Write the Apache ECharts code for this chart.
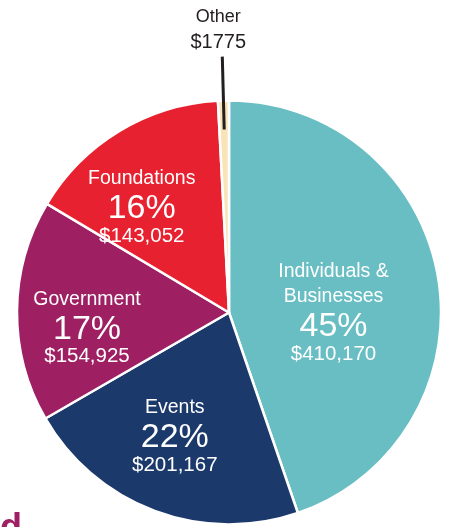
<!DOCTYPE html>
<html>
<head>
<meta charset="utf-8">
<script src="https://cdn.jsdelivr.net/npm/echarts@6/dist/echarts.min.js"></script>
<style>
  html, body { margin: 0; padding: 0; background: #fff; }
  #chart { width: 450px; height: 527px; }
</style>
</head>
<body>
<div id="chart"></div>
<script>
// data
var categories = ['Individuals & Businesses', 'Events', 'Government', 'Foundations', 'Other']
var nameLines = [['Individuals &', 'Businesses'], ['Events'], ['Government'], ['Foundations'], ['Other']]
var amounts = [410170, 201167, 154925, 143052, 1775]

// styling
var colors = ['#68bec3', '#1b3a6b', '#9e1f62', '#e72130', '#f8e4b8']
var labelShift = [[-3, 17], [-16, 21], [-33, 15], [-31, -13]]
var font = 'Liberation Sans'
var ink = '#231f20'

function money (v) {
  var s = String(v)
  if (v >= 10000) s = s.replace(/\B(?=(\d{3})+(?!\d))/g, ',')
  return '$' + s
}

// main pie: slices + the inside labels
var mainData = categories.map(function (name, i) {
  var item = { name: name, value: amounts[i], itemStyle: { color: colors[i] } }
  if (i === 4) item.label = { show: false }
  return item
})

// transparent copy on top: only carries the "Other" callout so its line sits above the slice
var calloutData = categories.map(function (name, i) {
  var item = { name: name, value: amounts[i] }
  if (i === 4) {
    item.label = {
      show: true,
      position: 'outside',
      formatter: '{o|' + nameLines[i][0] + '}\n{m|' + money(amounts[i]) + '}'
    }
    item.labelLine = {
      show: true,
      length: 44,
      length2: 0,
      lineStyle: { color: ink, width: 3 }
    }
  } else {
    item.label = { show: false }
    item.labelLine = { show: false }
  }
  return item
})

var pieBase = {
  type: 'pie',
  center: [229, 312.5],
  radius: 212,
  startAngle: 90,
  clockwise: true,
  minAngle: 3,
  avoidLabelOverlap: false,
  emphasis: { disabled: true }
}

var myChart = echarts.init(document.getElementById('chart'), null, { renderer: 'canvas' })
myChart.setOption({
  animation: false,
  graphic: [
    {
      type: 'text',
      x: 22,
      y: 511,
      style: {
        text: 'ed',
        fill: '#9e1f62',
        font: 'bold 36px "Liberation Sans"',
        align: 'right',
        verticalAlign: 'top'
      }
    }
  ],
  series: [
    Object.assign({}, pieBase, {
      z: 2,
      itemStyle: { borderColor: '#fff', borderWidth: 2.5 },
      label: {
        show: true,
        position: 'inside',
        color: '#fff',
        fontFamily: font,
        formatter: function (p) {
          var lines = nameLines[p.dataIndex].map(function (l) { return '{n|' + l + '}' })
          return lines.join('\n') + '\n{p|' + Math.round(p.percent) + '%}\n{a|' + money(p.value) + '}'
        },
        rich: {
          n: { fontFamily: font, fontSize: 19.5, lineHeight: 25, color: '#fff' },
          p: { fontFamily: font, fontSize: 34, lineHeight: 35, color: '#fff' },
          a: { fontFamily: font, fontSize: 20.5, lineHeight: 20, color: '#fff' }
        }
      },
      labelLine: { show: false },
      labelLayout: function (p) {
        var s = labelShift[p.dataIndex] || [0, 0]
        return { dx: s[0], dy: s[1] }
      },
      data: mainData
    }),
    Object.assign({}, pieBase, {
      z: 3,
      silent: true,
      itemStyle: { color: 'rgba(0,0,0,0)', borderWidth: 0 },
      label: {
        color: ink,
        fontFamily: font,
        rich: {
          o: { fontFamily: font, fontSize: 18, lineHeight: 26, color: ink },
          m: { fontFamily: font, fontSize: 20, lineHeight: 26, color: ink }
        }
      },
      labelLayout: function (p) {
        var pts = p.labelLinePoints
        if (!pts) return {}
        var a = pts[0], b = pts[1]
        var len = Math.sqrt((b[0] - a[0]) * (b[0] - a[0]) + (b[1] - a[1]) * (b[1] - a[1]))
        var ux = (b[0] - a[0]) / len, uy = (b[1] - a[1]) / len
        return {
          x: b[0] - 4,
          y: b[1] - 1,
          align: 'center',
          verticalAlign: 'bottom',
          labelLinePoints: [[a[0] - ux * 29, a[1] - uy * 29], [b[0], b[1]]]
        }
      },
      data: calloutData
    })
  ]
})
window.addEventListener('resize', function () {
  myChart.resize()
})
</script>
</body>
</html>
